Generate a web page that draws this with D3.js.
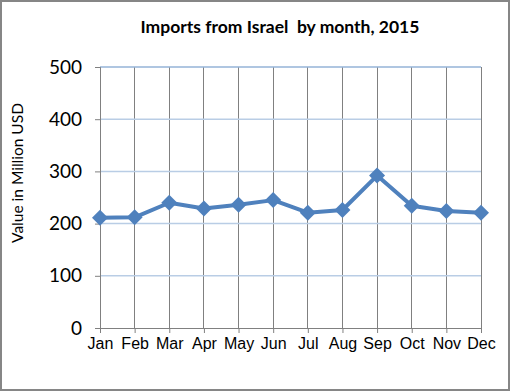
<!DOCTYPE html>
<html><head><meta charset="utf-8">
<script src="https://cdn.jsdelivr.net/npm/d3@7"></script>
<style>html,body{margin:0;padding:0;background:#fff;}svg{display:block;}</style>
</head><body>
<script>
const months = ["Jan","Feb","Mar","Apr","May","Jun","Jul","Aug","Sep","Oct","Nov","Dec"];
const values = [211, 212, 240, 229, 236, 245, 221, 226, 292, 234, 224, 221];
const yTicks = [0, 100, 200, 300, 400, 500];
const title = "Imports from Israel\u00a0 by month, 2015";
const yTitle = "Value in Million USD";

const W = 510, H = 391;
const svg = d3.select("body").append("svg").attr("width", W).attr("height", H);
svg.append("rect").attr("x",1).attr("y",1).attr("width",W-2).attr("height",H-2)
  .attr("fill","#fff").attr("stroke","#868686").attr("stroke-width",2);

const x = d3.scalePoint().domain(months).range([100, 481]).padding(0);
const y = d3.scaleLinear().domain([0, 500]).range([328, 67]);

// vertical gridlines
svg.append("g").selectAll("line").data(months).join("line")
  .attr("x1", d=>x(d)).attr("x2", d=>x(d)).attr("y1", y(500)).attr("y2", y(0))
  .attr("stroke","#808080").attr("stroke-width",1).attr("shape-rendering","crispEdges");
// horizontal gridlines
svg.append("g").selectAll("line").data(yTicks.filter(d=>d>0)).join("line")
  .attr("x1", 100).attr("x2", 481).attr("y1", d=>y(d)).attr("y2", d=>y(d))
  .attr("stroke", d=> d===500 ? "#95B3D7" : "#B9CDE5").attr("stroke-width",1.5);

// y axis
const yAxis = svg.append("g").attr("transform","translate(100,0)")
  .call(d3.axisLeft(y).tickValues(yTicks).tickSize(5).tickPadding(13));
yAxis.select(".domain").attr("stroke","#808080");
yAxis.selectAll(".tick line").attr("stroke","#808080");
yAxis.selectAll("text").attr("font-family","Lato, 'Liberation Sans', sans-serif")
  .attr("font-size",19).attr("fill","#000");

// x axis
const xAxis = svg.append("g").attr("transform","translate(0,328)")
  .call(d3.axisBottom(x).tickSize(5).tickPadding(5).tickSizeOuter(0));
xAxis.select(".domain").attr("stroke","#808080");
xAxis.selectAll(".tick line").attr("stroke","#808080");
xAxis.selectAll("text").attr("font-family","'Liberation Sans', Arial, sans-serif")
  .attr("font-size",16).attr("fill","#000");

// line
const line = d3.line().x((d,i)=>x(months[i])).y(d=>y(d));
svg.append("path").datum(values).attr("d", line).attr("fill","none")
  .attr("stroke","#4F81BD").attr("stroke-width",4).attr("stroke-linejoin","round");
// markers
svg.append("g").selectAll("path").data(values).join("path")
  .attr("transform",(d,i)=>`translate(${x(months[i])},${y(d)})`)
  .attr("d","M0,-8L8,0L0,8L-8,0Z").attr("fill","#4F81BD");

// title
svg.append("text").attr("x", 280).attr("y", 33).attr("text-anchor","middle")
  .attr("font-family","Lato, 'Liberation Sans', sans-serif").attr("font-weight","bold")
  .attr("font-size",17.5).attr("fill","#000").text(title);

// y title
svg.append("text").attr("transform","translate(23,173) rotate(-90)").attr("text-anchor","middle")
  .attr("font-family","Lato, 'Liberation Sans', sans-serif").attr("font-size",15.5)
  .attr("fill","#000").text(yTitle);
</script>
</body></html>
